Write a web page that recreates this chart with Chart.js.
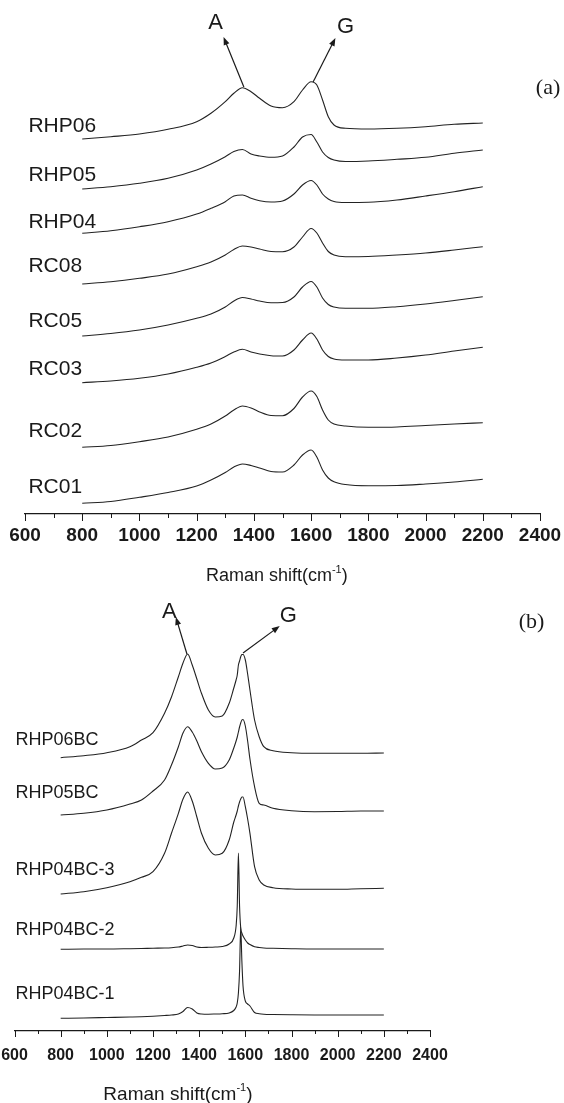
<!DOCTYPE html>
<html>
<head>
<meta charset="utf-8">
<title>Raman spectra</title>
<script src="https://cdn.jsdelivr.net/npm/chart.js@4.4.1/dist/chart.umd.min.js"></script>
<style>
  html, body { margin: 0; padding: 0; background: #fff; }
  #wrapA { position: absolute; left: 0; top: 0; width: 564px; height: 596px; }
  #wrapB { position: absolute; left: 0; top: 596px; width: 564px; height: 507px; }
</style>
</head>
<body>
<div id="wrapA"><canvas id="chart_a"></canvas></div>
<div id="wrapB"><canvas id="chart_b"></canvas></div>
<script>
// ---- Panel (a) data: stacked raw spectra (intensity in arbitrary units incl. offset)
const wnA = [800, 900, 1000, 1100, 1200, 1250, 1300, 1330, 1360, 1390, 1420, 1460, 1500,
             1540, 1570, 1600, 1620, 1640, 1660, 1680, 1720, 1800, 1900, 2000, 2100, 2200];
const namesA = ['RHP06', 'RHP05', 'RHP04', 'RC08', 'RC05', 'RC03', 'RC02', 'RC01'];
const rhp06 = [375, 377.3, 380, 384.7, 392.3, 400.7, 412.3, 420.7, 426.3, 422.3, 415.7, 408, 406.3,
               412.3, 424, 432.3, 429, 414, 397.3, 389, 385.7, 385, 385.7, 387.3, 389.7, 391];
const rhp05 = [325, 327.3, 330.7, 335.7, 344, 350, 357.3, 362.5, 364.5, 360, 358, 356.7, 358,
               367, 377, 379.5, 372, 362, 356.5, 354, 352.5, 353, 354.7, 356.7, 360.7, 364];
const rhp04 = [280.7, 283.3, 287.3, 292.3, 300, 305.7, 312.3, 318, 319, 315.7, 313.3, 312, 313,
               320, 329, 333.5, 329, 320, 315, 312.5, 311.5, 311.7, 314, 318, 322.3, 327.3];
const rc08 = [230, 232.3, 235.7, 240, 247.3, 252, 259, 264.5, 268, 267, 265, 262.5, 262.3,
              267, 277, 285.5, 281, 271, 262.5, 259, 257.3, 257.5, 259, 261, 264, 267.3];
const rc05 = [178, 180.5, 184, 189, 195.7, 200, 207, 213, 216.5, 215, 213, 211.3, 211.5,
              217, 227, 232.5, 227, 216, 209.5, 207, 205.7, 205.7, 207.3, 210, 213.5, 217.3];
const rc03 = [131.3, 133, 135.7, 140, 146.7, 151, 157.5, 162, 164.7, 162, 160, 158.3, 158,
              164, 174, 181, 175, 164, 157.5, 155, 154, 154, 156, 159, 163, 166.7];
const rc02 = [66.7, 68.5, 72.3, 77, 84.7, 90, 98, 104, 108, 106, 102, 98.5, 98.3,
              105.5, 117, 123, 117.5, 104, 94, 90, 88, 86.7, 87, 88.5, 90, 91.3];
const rc01 = [10.7, 12.5, 16.7, 21.5, 28, 34, 41.5, 47, 50, 48.5, 46, 42.5, 42,
              49, 59, 64, 57, 44, 36, 32.3, 29.5, 28.3, 28.5, 30, 32, 34.7];
const seriesA = [rhp06, rhp05, rhp04, rc08, rc05, rc03, rc02, rc01];

// ---- Panel (b) data: stacked spectra of the BC samples
const wnB = [800, 900, 1000, 1100, 1150, 1200, 1250, 1280, 1310, 1330, 1350, 1370, 1390, 1410,
             1440, 1470, 1500, 1530, 1550, 1560, 1565, 1570, 1575, 1580, 1585, 1590, 1600, 1610,
             1620, 1640, 1660, 1680, 1720, 1800, 1900, 2000, 2100, 2200];
const namesB = ['RHP06BC', 'RHP05BC', 'RHP04BC-3', 'RHP04BC-2', 'RHP04BC-1'];
const rhp06bc = [273.3, 275.3, 278.3, 284.3, 291, 298.3, 317.7, 334, 354.3, 368, 377, 366, 352, 337.7,
                 321, 314, 315, 327.7, 343, 351, 356, 366, 370, 374.3, 376.5, 376.5, 371, 357,
                 341, 311, 294.3, 284.3, 280.3, 278.3, 277.7, 277.7, 277.7, 278];
const rhp05bc = [216, 217.7, 221, 227, 231, 240, 251, 266, 284.3, 298, 304.3, 299, 290, 279.3,
                 267.7, 262, 263, 271, 283, 290, 294, 299, 304, 308, 311, 311.5, 305, 290,
                 272, 244.3, 227.7, 226, 222.7, 220.3, 219.3, 219.5, 220, 220];
const rhp04bc3 = [137, 139.3, 143.3, 149.3, 153.7, 159.3, 177.7, 197.7, 217.7, 232, 239, 230, 214, 197.7,
                  182.7, 176, 177.7, 191, 209, 216, 220, 225, 229, 232, 234, 234, 224.3, 212,
                  197.7, 164.3, 151, 146, 143.3, 142, 141.7, 141.7, 142.3, 142.7];
const rhp04bc2 = [81.7, 82, 82, 82.3, 82.5, 82.8, 83, 83.3, 84, 85, 86, 85.5, 84, 83.5,
                  83.7, 84, 84.5, 87, 93, 105, 125, 178, 125, 103, 98, 95, 91, 88,
                  86.5, 84.3, 83.5, 83, 82.7, 82.3, 82, 82, 82, 82];
const rhp04bc1 = [12.7, 13, 13.5, 14, 14.3, 14.8, 15.5, 16, 17, 19.5, 23.5, 22, 18, 17,
                  16.8, 17, 17.3, 18, 20.5, 24, 28, 38, 60, 104, 70, 45, 30, 27,
                  25, 18.5, 17.3, 16.8, 16.5, 16.2, 16, 16, 16, 16];
const seriesB = [rhp06bc, rhp05bc, rhp04bc3, rhp04bc2, rhp04bc1];

const axisTicks = ['600', '800', '1000', '1200', '1400', '1600', '1800', '2000', '2200', '2400'];

// Placement of the annotation texts (in axis units)
const labelYA = [388, 338.5, 291.5, 248, 193, 145, 83, 26.5];
const labelYB = [291, 238, 161, 101, 36.5];

const SANS = '"Liberation Sans", Arial, Helvetica, sans-serif';
const SERIF = '"Liberation Serif", "Times New Roman", serif';

function drawArrow(ctx, x1, y1, x2, y2) { // line from peak (x1,y1) to tip (x2,y2) with a filled head
    const ang = Math.atan2(y2 - y1, x2 - x1);
    const len = 8, half = 3;
    ctx.beginPath();
    ctx.moveTo(x1, y1);
    ctx.lineTo(x2 - Math.cos(ang) * 4, y2 - Math.sin(ang) * 4);
    ctx.stroke();
    ctx.beginPath();
    ctx.moveTo(x2, y2);
    ctx.lineTo(x2 - len * Math.cos(ang) + half * Math.sin(ang), y2 - len * Math.sin(ang) - half * Math.cos(ang));
    ctx.lineTo(x2 - len * Math.cos(ang) - half * Math.sin(ang), y2 - len * Math.sin(ang) + half * Math.cos(ang));
    ctx.closePath();
    ctx.fill();
}

function drawAxisTitle(ctx, cx, cy, size) { // "Raman shift(cm-1)" with a real superscript
    const main = 'Raman shift(cm', sup = '-1', tail = ')';
    const supSize = Math.round(size * 0.6);
    ctx.font = size + 'px ' + SANS;
    const w1 = ctx.measureText(main).width;
    const w3 = ctx.measureText(tail).width;
    ctx.font = supSize + 'px ' + SANS;
    const w2 = ctx.measureText(sup).width;
    let x = cx - (w1 + w2 + w3) / 2;
    ctx.textAlign = 'left';
    ctx.textBaseline = 'alphabetic';
    const base = cy + size * 0.36;
    ctx.font = size + 'px ' + SANS;
    ctx.fillText(main, x, base);
    x += w1;
    ctx.font = supSize + 'px ' + SANS;
    ctx.fillText(sup, x, base - size * 0.45);
    x += w2;
    ctx.font = size + 'px ' + SANS;
    ctx.fillText(tail, x, base);
}

const annotatePlugin = {
    id: 'annotate',
    afterDraw(chart, args, o) {
        const ctx = chart.ctx;
        const xs = chart.scales.x, ys = chart.scales.y;
        const px = v => xs.getPixelForValue(v);
        const py = v => ys.getPixelForValue(v);
        ctx.save();
        ctx.strokeStyle = '#1a1a1a';
        ctx.fillStyle = '#1a1a1a';
        ctx.lineWidth = 1;

        // tick marks: long on the labelled values, short in between
        xs.ticks.forEach(t => {
            const x = Math.round(px(t.value)) + 0.5;
            const len = t.value % 200 === 0 ? o.majorLen : o.minorLen;
            ctx.beginPath();
            ctx.moveTo(x, xs.top);
            ctx.lineTo(x, xs.top + len);
            ctx.stroke();
        });

        // sample names
        ctx.font = o.nameSize + 'px ' + SANS;
        ctx.textAlign = 'left';
        ctx.textBaseline = 'middle';
        o.names.forEach((n, i) => ctx.fillText(n, px(o.nameX), py(o.nameY[i])));

        // peak arrows and letters
        ctx.lineWidth = 1.2;
        o.arrows.forEach(a => drawArrow(ctx, px(a[0]), py(a[1]), px(a[2]), py(a[3])));
        ctx.font = o.peakSize + 'px ' + SANS;
        ctx.textAlign = 'center';
        o.peaks.forEach(p => ctx.fillText(p[0], px(p[1]), py(p[2])));

        // panel letter
        ctx.font = o.panelSize + 'px ' + SERIF;
        ctx.fillText(o.panel[0], px(o.panel[1]), py(o.panel[2]));

        // axis title
        drawAxisTitle(ctx, px(o.titleX), xs.bottom - o.titleFromBottom, o.titleSize);
        ctx.restore();
    }
};

function makeChart(canvasId, wn, series, cfg) {
    const datasets = series.map((vals, i) => ({
        label: cfg.names[i],
        data: wn.map((w, k) => ({x: w, y: vals[k]})),
        borderColor: '#222',
        borderWidth: 1.1,
        pointRadius: 0,
        fill: false,
        cubicInterpolationMode: 'monotone'
    }));
    return new Chart(document.getElementById(canvasId), {
        type: 'line',
        data: {datasets},
        plugins: [annotatePlugin],
        options: {
            responsive: true,
            maintainAspectRatio: false,
            animation: false,
            events: [],
            layout: {padding: {left: cfg.padLeft, right: cfg.padRight, top: 0, bottom: 0}},
            plugins: {
                legend: {display: false},
                tooltip: {enabled: false},
                annotate: cfg.annotate
            },
            scales: {
                x: {
                    type: 'linear',
                    min: 600,
                    max: 2400,
                    afterFit: s => { // fixed axis band, no extra room for the end labels
                        s.height = cfg.axisHeight;
                        s.paddingLeft = 0;
                        s.paddingRight = 0;
                    },
                    border: {display: true, color: '#1a1a1a', width: 1.2},
                    grid: {display: false, drawTicks: true, tickLength: cfg.annotate.majorLen},
                    ticks: {
                        stepSize: 100,
                        autoSkip: false,
                        maxRotation: 0,
                        minRotation: 0,
                        padding: cfg.tickPad,
                        color: '#1a1a1a',
                        font: {family: SANS, size: cfg.tickSize, weight: 'bold'},
                        callback: v => (v % 200 === 0 ? axisTicks[(v - 600) / 200] : '')
                    },
                    title: {display: false}
                },
                y: {
                    type: 'linear',
                    display: false,
                    min: 0,
                    max: cfg.yMax
                }
            }
        }
    });
}

const chartA = makeChart('chart_a', wnA, seriesA, {
    names: namesA,
    padLeft: 25, padRight: 24,
    axisHeight: 82, tickPad: 3, tickSize: 19, yMax: 514,
    annotate: {
        majorLen: 7, minorLen: 4,
        names: namesA, nameX: 612, nameY: labelYA, nameSize: 21,
        arrows: [[1365, 427, 1294, 477], [1607, 432, 1685, 476]],
        peaks: [['A', 1266, 491], ['G', 1720, 487]], peakSize: 22,
        panel: ['(a)', 2428, 426], panelSize: 22,
        titleX: 1480, titleFromBottom: 21, titleSize: 18
    }
});

const chartB = makeChart('chart_b', wnB, seriesB, {
    names: namesB,
    padLeft: 14.5, padRight: 134,
    axisHeight: 72, tickPad: 9, tickSize: 16, yMax: 435,
    annotate: {
        majorLen: 6, minorLen: 3,
        names: namesB, nameX: 604, nameY: labelYB, nameSize: 18,
        arrows: [[1347, 377, 1299, 414], [1590, 378, 1749, 405]],
        peaks: [['A', 1271, 419], ['G', 1786, 415]], peakSize: 22,
        panel: ['(b)', 2840, 409], panelSize: 22,
        titleX: 1308, titleFromBottom: 10, titleSize: 19
    }
});
</script>
</body>
</html>
